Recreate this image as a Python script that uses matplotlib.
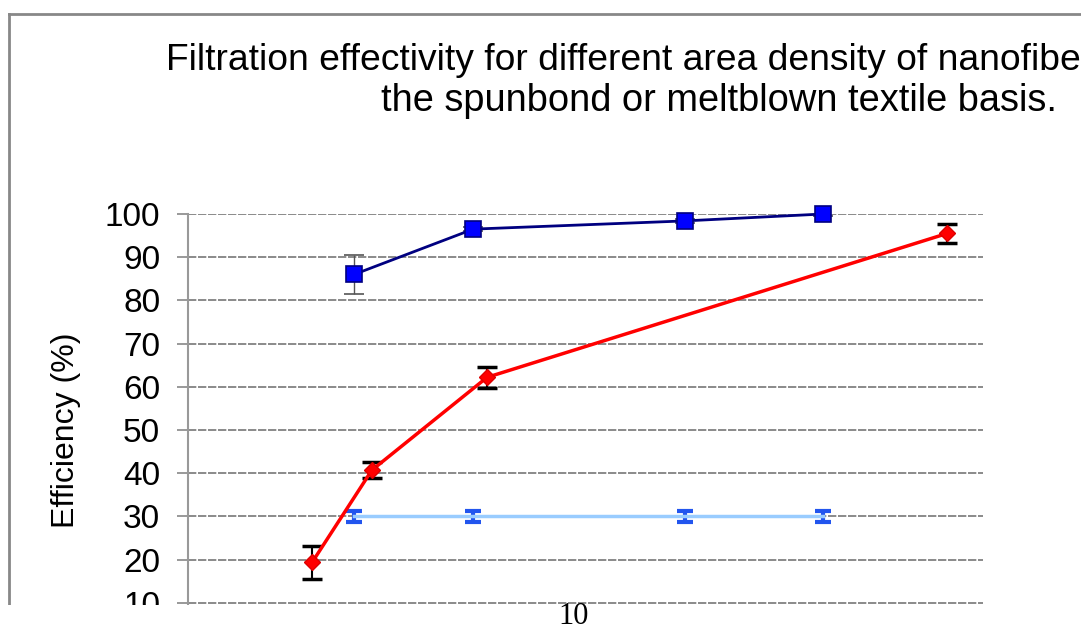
import matplotlib
matplotlib.use('Agg')
import matplotlib.pyplot as plt
import matplotlib.patches as patches

plt.rcParams['font.family'] = ['Liberation Sans', 'DejaVu Sans']

# data (x in arbitrary area-density units)
blue_x = [1.67, 2.87, 5.00, 6.39]
blue_y = [86.0, 96.5, 98.4, 100.0]
blue_err = [4.5, 0.5, 0.5, 0.5]

red_x = [1.25, 1.85, 3.01, 7.64]
red_y = [19.4, 40.7, 62.2, 95.5]
red_err = [3.8, 1.8, 2.4, 2.3]

base_x = [1.67, 2.87, 5.00, 6.39]
base_y = [30.0, 30.0, 30.0, 30.0]
base_err = [1.2, 1.2, 1.2, 1.2]

yticks = [0, 10, 20, 30, 40, 50, 60, 70, 80, 90, 100]

W, H = 1081, 630
fig = plt.figure(figsize=(W / 100, H / 100), dpi=100)

# axes extends below the crop, like the original screenshot
ax = fig.add_axes([188 / W, 1 - 646 / H, (983 - 188) / W, 432 / H])
ax.set_xlim(0, 8)
ax.set_ylim(0, 100)
ax.set_yticks(yticks)
ax.set_xticks([])
ax.tick_params(axis='y', length=8, width=1.2, color='#888888', labelsize=24, pad=12)
for side in ['top', 'right', 'bottom']:
    ax.spines[side].set_visible(False)
ax.spines['left'].set_color('#999999')
ax.spines['left'].set_linewidth(1.5)
ax.yaxis.grid(True, color='#777777', linestyle=(0, (5, 1)), linewidth=1.2)
ax.set_axisbelow(True)
ax.set_ylabel('Efficiency (%)', fontsize=23, labelpad=17)

# light blue baseline
ax.errorbar(base_x, base_y, yerr=base_err, color='#99CCFF', lw=2.5,
            ecolor='#2255EE', elinewidth=3, capsize=6, capthick=3, zorder=3)
# blue series
blue = ax.errorbar(blue_x, blue_y, yerr=blue_err, color='#000080', lw=2,
                   marker='s', markersize=12, markerfacecolor='#0000FF',
                   markeredgecolor='#000080', markeredgewidth=1.2,
                   ecolor='#555555', elinewidth=1, capsize=7, capthick=1, zorder=4)
blue[0].set_clip_on(False)
# red series
ax.errorbar(red_x, red_y, yerr=red_err, color='#FF0000', lw=2.5,
            marker='D', markersize=8, markerfacecolor='#FF0000',
            markeredgecolor='#DD0000',
            ecolor='black', elinewidth=1.5, capsize=7, capthick=2.5, zorder=5)

# title (cut off on the right as in the source)
fig.text(166 / W, 1 - 61 / H, 'Filtration effectivity for different area density of nanofibers layer on',
         ha='left', va='center', fontsize=26.8)
fig.text(1057 / W, 1 - 101 / H, 'the spunbond or meltblown textile basis.',
         ha='right', va='center', fontsize=27.4)

# outer chart frame
fig.add_artist(plt.Line2D([9 / W, 9 / W], [1 - 14 / H, 0], color='#888888', lw=2))
fig.add_artist(plt.Line2D([9 / W, 1], [1 - 14 / H, 1 - 14 / H], color='#888888', lw=2))

# page below the cropped chart
fig.add_artist(patches.Rectangle((0, 0), 1, 25 / H, transform=fig.transFigure,
                                 facecolor='white', edgecolor='none', zorder=10))
fig.text(574 / W, 1 - 617 / H, '10', ha='center', va='center', fontsize=22,
         family='Liberation Serif', zorder=11)

fig.savefig('out.png', dpi=100, facecolor='white')
